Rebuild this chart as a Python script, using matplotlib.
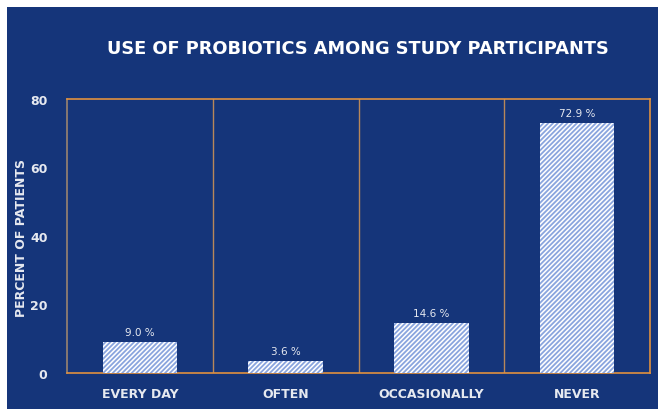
import matplotlib
matplotlib.use("Agg")
import matplotlib.pyplot as plt
from matplotlib.patches import Rectangle

categories = ["EVERY DAY", "OFTEN", "OCCASIONALLY", "NEVER"]
values = [9.0, 3.6, 14.6, 72.9]
yticks = [0, 20, 40, 60, 80]

BG = "#15357A"
TXT = "#E6E9F0"
ORANGE = "#E0913F"

plt.rcParams['hatch.linewidth'] = 1.3
fig = plt.figure(figsize=(6.58, 4.10), dpi=100, facecolor="white")
fig.patches.append(Rectangle((7/658, 0), 1, 1 - 8/410, transform=fig.transFigure,
                             facecolor=BG, edgecolor="none", zorder=-10))

ax = fig.add_axes([67/658, (410-374)/410, (650-67)/658, (374-100)/410])
ax.set_facecolor(BG)
x = list(range(len(categories)))
bars = ax.bar(x, values, width=0.51, color="white", edgecolor="#8AA5DE",
              linewidth=0, hatch="///////", zorder=3)
for xi, v in zip(x, values):
    ax.text(xi, v + 1.5, f"{v:.1f} %", ha="center", va="bottom",
            color=TXT, fontsize=7.5, family="DejaVu Sans")

for b in [0.5, 1.5, 2.5]:
    ax.axvline(b, color="#B8875A", linewidth=1.0, zorder=2)

ax.set_xlim(-0.5, 3.5)
ax.set_ylim(0, 80)
ax.set_yticks(yticks)
ax.set_xticks(x)
ax.set_xticklabels(categories)
for sp in ["top", "right", "bottom"]:
    ax.spines[sp].set_color(ORANGE)
    ax.spines[sp].set_linewidth(1.2)
ax.spines["left"].set_color("#9A8470")
ax.spines["left"].set_linewidth(1.2)
ax.tick_params(length=0, colors=TXT)
ax.tick_params(axis="y", labelsize=9, pad=14)
ax.tick_params(axis="x", labelsize=9, pad=10)
for lab in ax.get_yticklabels():
    lab.set_fontweight("bold")
for lab in ax.get_xticklabels():
    lab.set_fontweight("bold")
ax.set_ylabel("PERCENT OF PATIENTS", color=TXT, fontsize=9, fontweight="bold")
ax.yaxis.set_label_coords((28 - 67) / 583, 0.495)

fig.text(358/658, 1 - 49/410, "USE OF PROBIOTICS AMONG STUDY PARTICIPANTS",
         ha="center", va="center", color="white", fontsize=12.8, fontweight="bold")

fig.savefig("out.png", dpi=100, facecolor="white")
